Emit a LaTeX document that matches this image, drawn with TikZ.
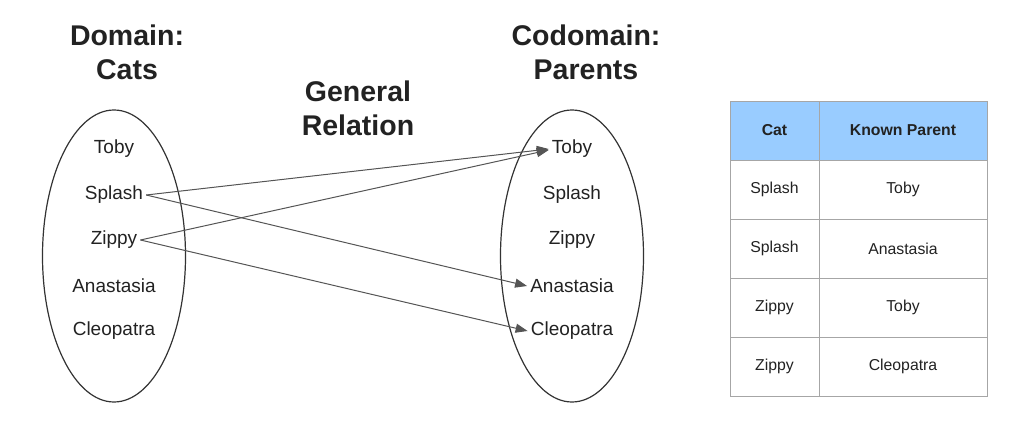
\documentclass[tikz,border=0pt]{standalone}
\usepackage{fontspec}
\setmainfont{Liberation Sans}
\usetikzlibrary{positioning,arrows.meta,shapes.geometric}
\definecolor{lineC}{HTML}{333333}
\definecolor{arrowC}{HTML}{555555}
\definecolor{gridC}{HTML}{A6A6A6}
\definecolor{headC}{HTML}{99CCFF}
\definecolor{textC}{HTML}{222222}

\begin{document}
\begin{tikzpicture}[
  x=1pt, y=-1pt,
  every node/.style={text=textC},
  setoval/.style={draw=lineC, line width=1.2pt, ellipse, minimum width=143pt, minimum height=292pt, inner sep=0pt},
  titletext/.style={font=\fontsize{28.5}{34}\selectfont\bfseries, align=center},
  member/.style={font=\fontsize{19}{22}\selectfont, inner sep=3pt},
  relarrow/.style={-{Triangle[length=12pt,width=9pt]}, arrowC, line width=1pt},
  cellbox/.style 2 args={draw=gridC, line width=0.8pt, minimum width=#1, minimum height=59pt,
    inner sep=0pt, outer sep=0pt, fill=#2, font=\fontsize{15.8}{18}\selectfont},
]
\useasboundingbox (0,0) rectangle (1015,422);

% -- Sets --
\node[setoval] (dom) at (114,256) {};
\node[setoval] (cod) at (572,256) {};

% -- Titles --
\node[titletext] (domtitle) at (127,52) {Domain:\\Cats};
\node[titletext] (codtitle) at (586,52) {Codomain:\\Parents};
\node[titletext] (reltitle) at (358,108) {General\\Relation};

% -- Domain members --
\node[member] (lToby) at (114,149) {Toby};
\node[member] (lSplash) at (114,195) {Splash};
\node[member] (lZippy) at (114,240) {Zippy};
\node[member] (lAnastasia) at (114,286) {Anastasia};
\node[member] (lCleopatra) at (114,331) {Cleopatra};

% -- Codomain members --
\node[member] (rToby) at (572,149) {Toby};
\node[member] (rSplash) at (572,195) {Splash};
\node[member] (rZippy) at (572,240) {Zippy};
\node[member] (rAnastasia) at (572,286) {Anastasia};
\node[member] (rCleopatra) at (572,331) {Cleopatra};

% -- Relation arrows --
\draw[relarrow] (lSplash.east) -- (rToby.west);
\draw[relarrow] (lSplash.east) -- (rAnastasia.west);
\draw[relarrow] (lZippy.east) -- ([yshift=-1pt]rToby.west);
\draw[relarrow] (lZippy.east) -- (rCleopatra.west);

% -- Table --
\node[cellbox={89pt}{headC}, anchor=north west, font=\fontsize{15.8}{18}\selectfont\bfseries] (hCat) at (730,101) {Cat};
\node[cellbox={168pt}{headC}, right=0pt of hCat, font=\fontsize{15.8}{18}\selectfont\bfseries] (hParent) {Known Parent};
\node[cellbox={89pt}{white}, below=0pt of hCat] (c1) {Splash};
\node[cellbox={168pt}{white}, right=0pt of c1] (p1) {Toby};
\node[cellbox={89pt}{white}, below=0pt of c1] (c2) {Splash};
\node[cellbox={168pt}{white}, right=0pt of c2] (p2) {Anastasia};
\node[cellbox={89pt}{white}, below=0pt of c2] (c3) {Zippy};
\node[cellbox={168pt}{white}, right=0pt of c3] (p3) {Toby};
\node[cellbox={89pt}{white}, below=0pt of c3] (c4) {Zippy};
\node[cellbox={168pt}{white}, right=0pt of c4] (p4) {Cleopatra};

\end{tikzpicture}
\end{document}
